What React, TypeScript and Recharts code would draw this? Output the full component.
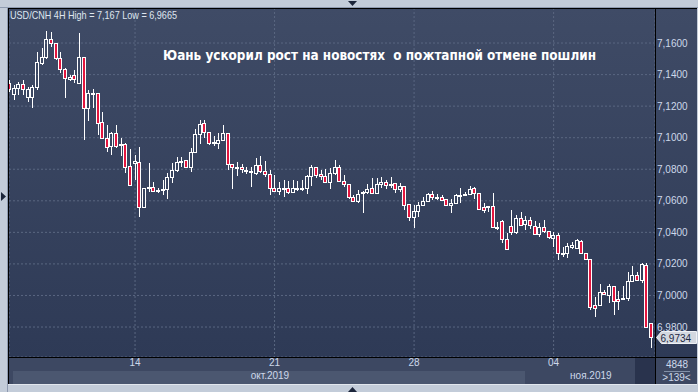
import React from "react";
import { ComposedChart, Bar, XAxis, YAxis, CartesianGrid, ReferenceLine } from "recharts";

// USD/CNH 4H candles (139 bars, 9 Oct - 7 Nov 2019)
const opens = [
  7.1348, 7.1275, 7.1313, 7.1338, 7.1259, 7.1259, 7.1319, 7.1471, 7.1509, 7.1623,
  7.1598, 7.1503, 7.1435, 7.1373, 7.1397, 7.1344, 7.1509, 7.1186, 7.1275, 7.1281,
  7.1097, 7.0999, 7.0949, 7.1027, 7.0960, 7.0960, 7.0821, 7.0840, 7.0846, 7.0561,
  7.0681, 7.0688, 7.0662, 7.0669, 7.0675, 7.0751, 7.0795, 7.0846, 7.0858, 7.0814,
  7.0909, 7.1023, 7.1093, 7.1036, 7.0966, 7.0966, 7.0985, 7.1030, 7.0833, 7.0812,
  7.0814, 7.0793, 7.0791, 7.0774, 7.0827, 7.0791, 7.0768, 7.0683, 7.0664, 7.0677,
  7.0679, 7.0657, 7.0677, 7.0681, 7.0679, 7.0757, 7.0812, 7.0770, 7.0757, 7.0717,
  7.0774, 7.0812, 7.0727, 7.0704, 7.0622, 7.0601, 7.0656, 7.0658, 7.0679, 7.0651,
  7.0706, 7.0717, 7.0704, 7.0714, 7.0672, 7.0694, 7.0580, 7.0495, 7.0535, 7.0573,
  7.0601, 7.0643, 7.0624, 7.0622, 7.0614, 7.0573, 7.0586, 7.0636, 7.0642, 7.0643,
  7.0679, 7.0651, 7.0562, 7.0566, 7.0567, 7.0432, 7.0474, 7.0356, 7.0440, 7.0404,
  7.0488, 7.0453, 7.0478, 7.0440, 7.0387, 7.0436, 7.0409, 7.0364, 7.0383, 7.0270,
  7.0271, 7.0309, 7.0299, 7.0345, 7.0267, 7.0229, 6.9940, 6.9940, 7.0024, 7.0003,
  7.0060, 6.9976, 6.9978, 6.9984, 7.0094, 7.0130, 7.0098, 7.0193, 6.9826,
];
const highs = [
  7.1365, 7.1334, 7.1354, 7.1365, 7.1319, 7.1334, 7.1545, 7.1566, 7.1678, 7.1670,
  7.1600, 7.1545, 7.1443, 7.1398, 7.1429, 7.1665, 7.1509, 7.1302, 7.1308, 7.1281,
  7.1160, 7.1080, 7.1037, 7.1080, 7.1000, 7.0966, 7.0928, 7.0890, 7.0941, 7.0681,
  7.0840, 7.0719, 7.0681, 7.0732, 7.0776, 7.0840, 7.0877, 7.0877, 7.0858, 7.0934,
  7.1055, 7.1112, 7.1112, 7.1036, 7.1011, 7.1030, 7.1080, 7.1030, 7.0833, 7.0846,
  7.0833, 7.0816, 7.0816, 7.0872, 7.0884, 7.0853, 7.0795, 7.0763, 7.0721, 7.0732,
  7.0727, 7.0732, 7.0727, 7.0732, 7.0763, 7.0827, 7.0812, 7.0795, 7.0799, 7.0805,
  7.0858, 7.0827, 7.0763, 7.0704, 7.0637, 7.0668, 7.0664, 7.0706, 7.0742, 7.0742,
  7.0751, 7.0732, 7.0751, 7.0714, 7.0714, 7.0694, 7.0580, 7.0573, 7.0594, 7.0622,
  7.0650, 7.0664, 7.0643, 7.0635, 7.0614, 7.0614, 7.0643, 7.0679, 7.0656, 7.0694,
  7.0690, 7.0651, 7.0583, 7.0567, 7.0651, 7.0467, 7.0478, 7.0394, 7.0542, 7.0510,
  7.0529, 7.0504, 7.0497, 7.0472, 7.0457, 7.0478, 7.0409, 7.0404, 7.0394, 7.0308,
  7.0334, 7.0341, 7.0356, 7.0352, 7.0271, 7.0229, 6.9990, 7.0073, 7.0035, 7.0073,
  7.0060, 7.0029, 7.0060, 7.0150, 7.0187, 7.0149, 7.0203, 7.0203, 6.9826,
];
const lows = [
  7.1289, 7.1239, 7.1270, 7.1270, 7.1228, 7.1186, 7.1302, 7.1461, 7.1497, 7.1577,
  7.1492, 7.1410, 7.1253, 7.1362, 7.1344, 7.1344, 7.0985, 7.1105, 7.1186, 7.1017,
  7.0999, 7.0907, 7.0890, 7.0932, 7.0884, 7.0776, 7.0694, 7.0732, 7.0497, 7.0554,
  7.0656, 7.0656, 7.0650, 7.0637, 7.0612, 7.0713, 7.0783, 7.0814, 7.0808, 7.0783,
  7.0903, 7.0960, 7.0998, 7.0953, 7.0947, 7.0928, 7.0985, 7.0795, 7.0675, 7.0757,
  7.0778, 7.0770, 7.0689, 7.0763, 7.0776, 7.0753, 7.0637, 7.0657, 7.0637, 7.0625,
  7.0643, 7.0650, 7.0662, 7.0662, 7.0643, 7.0694, 7.0744, 7.0732, 7.0710, 7.0675,
  7.0763, 7.0721, 7.0689, 7.0614, 7.0594, 7.0587, 7.0524, 7.0643, 7.0647, 7.0647,
  7.0679, 7.0675, 7.0681, 7.0651, 7.0657, 7.0542, 7.0474, 7.0425, 7.0495, 7.0567,
  7.0601, 7.0605, 7.0605, 7.0601, 7.0573, 7.0524, 7.0584, 7.0583, 7.0637, 7.0643,
  7.0609, 7.0546, 7.0524, 7.0531, 7.0425, 7.0415, 7.0330, 7.0288, 7.0383, 7.0390,
  7.0440, 7.0415, 7.0419, 7.0387, 7.0372, 7.0394, 7.0357, 7.0308, 7.0225, 7.0245,
  7.0235, 7.0292, 7.0292, 7.0263, 7.0225, 6.9910, 6.9861, 6.9940, 7.0003, 6.9952,
  6.9876, 6.9908, 6.9971, 6.9965, 7.0092, 7.0092, 7.0079, 6.9792, 6.9665,
];
const closes = [
  7.1306, 7.1313, 7.1338, 7.1306, 7.1306, 7.1323, 7.1482, 7.1509, 7.1623, 7.1598,
  7.1503, 7.1435, 7.1376, 7.1383, 7.1370, 7.1509, 7.1186, 7.1281, 7.1281, 7.1093,
  7.1000, 7.0942, 7.1027, 7.0949, 7.0963, 7.0814, 7.0700, 7.0850, 7.0561, 7.0681,
  7.0688, 7.0662, 7.0669, 7.0675, 7.0751, 7.0795, 7.0846, 7.0852, 7.0814, 7.0909,
  7.1023, 7.1087, 7.1036, 7.0966, 7.0972, 7.0985, 7.1030, 7.0833, 7.0812, 7.0814,
  7.0804, 7.0797, 7.0781, 7.0827, 7.0791, 7.0768, 7.0679, 7.0664, 7.0679, 7.0681,
  7.0657, 7.0679, 7.0681, 7.0683, 7.0757, 7.0812, 7.0763, 7.0759, 7.0717, 7.0774,
  7.0812, 7.0727, 7.0704, 7.0622, 7.0601, 7.0643, 7.0658, 7.0673, 7.0651, 7.0706,
  7.0721, 7.0700, 7.0707, 7.0672, 7.0694, 7.0573, 7.0495, 7.0535, 7.0573, 7.0601,
  7.0643, 7.0626, 7.0627, 7.0605, 7.0573, 7.0586, 7.0637, 7.0637, 7.0643, 7.0673,
  7.0647, 7.0546, 7.0541, 7.0567, 7.0432, 7.0434, 7.0356, 7.0294, 7.0404, 7.0488,
  7.0447, 7.0478, 7.0447, 7.0387, 7.0436, 7.0411, 7.0373, 7.0383, 7.0271, 7.0272,
  7.0314, 7.0320, 7.0352, 7.0267, 7.0229, 6.9927, 6.9919, 7.0024, 7.0007, 7.0060,
  6.9967, 6.9967, 6.9984, 7.0094, 7.0130, 7.0098, 7.0199, 6.9802, 6.9734,
];

const yTicks = [6.98, 7.0, 7.02, 7.04, 7.06, 7.08, 7.1, 7.12, 7.14, 7.16];
const dayTickIdx = [27, 57, 87, 117];
const dayLabels = ["14", "21", "28", "04"];
const monthTickIdx = [56, 125];
const monthLabels = ["окт.2019", "ноя.2019"];
const lastPrice = 6.9734;

const RED = "#e3163f";
const AXIS_TEXT = "#cdd8ea";
const FONT = "'Liberation Sans', Arial, sans-serif";

const data = opens.map((o, i) => ({
  i,
  open: o,
  high: highs[i],
  low: lows[i],
  close: closes[i],
  range: [lows[i], highs[i]],
}));

const fmtPrice = (v: number) => v.toFixed(4).replace(".", ",");

function Candle(props: any) {
  let { x, y, width, height, payload } = props;
  if (x == null || y == null || !payload) return null;
  if (height < 0) {
    y += height;
    height = -height;
  }
  const { open, close, high, low } = payload;
  const span = high - low;
  const py = (v: number) => (span > 0 ? y + ((high - v) / span) * height : y);
  const cx = Math.round(x + width / 2) + 0.5;
  const top = Math.round(py(Math.max(open, close))) + 0.5;
  let bot = Math.round(py(Math.min(open, close))) + 0.5;
  if (bot - top < 1) bot = top + 1;
  const yHi = Math.round(y);
  const yLo = Math.round(y + height);
  const bear = close < open;
  return (
    <g shapeRendering="crispEdges">
      {yHi < top && <line x1={cx} x2={cx} y1={yHi} y2={top} stroke="#fff" />}
      {yLo > bot && <line x1={cx} x2={cx} y1={bot} y2={yLo} stroke="#fff" />}
      <rect x={cx - 2} y={top} width={3} height={bot - top} fill={bear ? RED : "none"} stroke="#fff" />
    </g>
  );
}

function PriceTag(props: any) {
  const vb = props.viewBox;
  if (!vb) return null;
  const x0 = vb.x + vb.width + 1.5;
  const yc = Math.round(vb.y) + 0.5;
  const pts = `${x0},${yc} ${x0 + 5},${yc - 6} ${x0 + 40},${yc - 6} ${x0 + 40},${yc + 6} ${x0 + 5},${yc + 6}`;
  return (
    <g>
      <polygon points={pts} fill="#d3d8e0" stroke="#eef1f5" />
      <text x={x0 + 4} y={yc + 4} fontSize={10} fontFamily={FONT} fill="#1d2842">
        {fmtPrice(lastPrice)}
      </text>
    </g>
  );
}

export default function App() {
  return (
    <div
      style={{
        position: "fixed",
        left: 0,
        top: 0,
        width: 698,
        height: 392,
        background: "#c3ccd9",
        overflow: "hidden",
      }}
    >
      {/* dark chart panel */}
      <div
        style={{
          position: "absolute",
          left: 8,
          top: 8,
          width: 689,
          height: 350,
          background: "linear-gradient(#3f4b66, #2e3a56)",
        }}
      />
      {/* bottom strips */}
      <div style={{ position: "absolute", left: 8, top: 358, width: 689, height: 26, background: "#3d4862" }} />
      <div style={{ position: "absolute", left: 13, top: 371, width: 512, height: 13, background: "#4b5770" }} />
      <div style={{ position: "absolute", left: 635, top: 358, width: 20, height: 26, background: "#29334d" }} />

      <div style={{ position: "absolute", left: 0, top: 0 }}>
        <ComposedChart width={698} height={392} data={data} margin={{ top: 8, right: 6, bottom: 8, left: 9 }}>
          <CartesianGrid stroke="#5a6781" strokeDasharray="2 2" />
          <XAxis
            dataKey="i"
            type="number"
            domain={[-0.1, 138.8]}
            allowDataOverflow
            ticks={dayTickIdx}
            interval={0}
            tickFormatter={(v: number) => dayLabels[dayTickIdx.indexOf(v)] ?? ""}
            axisLine={false}
            tickLine={false}
            tickSize={0}
            tickMargin={2}
            height={14}
            tick={{ fill: AXIS_TEXT, fontSize: 10, fontFamily: FONT }}
          />
          <XAxis
            xAxisId="m"
            dataKey="i"
            type="number"
            domain={[-0.1, 138.8]}
            allowDataOverflow
            ticks={monthTickIdx}
            interval={0}
            tickFormatter={(v: number) => monthLabels[monthTickIdx.indexOf(v)] ?? ""}
            axisLine={false}
            tickLine={false}
            tickSize={0}
            tickMargin={1}
            height={13}
            tick={{ fill: AXIS_TEXT, fontSize: 10, fontFamily: FONT }}
          />
          <YAxis
            orientation="right"
            width={37}
            domain={[6.961, 7.1822]}
            allowDataOverflow
            ticks={yTicks}
            interval={0}
            tickFormatter={fmtPrice}
            axisLine={false}
            tickLine={false}
            tickSize={0}
            tickMargin={2}
            tick={{ fill: AXIS_TEXT, fontSize: 10, fontFamily: FONT, textAnchor: "start" }}
          />
          <ReferenceLine y={lastPrice} stroke="none" ifOverflow="visible" label={<PriceTag />} />
          <Bar dataKey="range" barSize={4} isAnimationActive={false} shape={(p: any) => <Candle {...p} />} />
        </ComposedChart>
      </div>

      {/* frame lines, markers and captions */}
      <svg
        width={698}
        height={392}
        style={{ position: "absolute", left: 0, top: 0, pointerEvents: "none" }}
        shapeRendering="crispEdges"
      >
        <line x1={0} x2={698} y1={7.5} y2={7.5} stroke="#8e9ab0" />
        <line x1={7.5} x2={7.5} y1={8} y2={392} stroke="#8e9ab0" />
        <line x1={8} x2={697} y1={8.5} y2={8.5} stroke="#000" />
        <line x1={8.5} x2={8.5} y1={8} y2={384} stroke="#000" />
        <line x1={8} x2={697} y1={357.5} y2={357.5} stroke="#000" />
        <line x1={655.5} x2={655.5} y1={8} y2={384} stroke="#000" />
        <line x1={8} x2={697} y1={384.5} y2={384.5} stroke="#e2e7ee" />
        <line x1={664} x2={690} y1={371.5} y2={371.5} stroke="#8290a8" />
        <polygon points="348,1 357,1 352.5,6" fill="#1b253a" shapeRendering="auto" />
        <polygon points="348,392 357,392 352.5,387" fill="#1b253a" shapeRendering="auto" />
        <polygon points="1,192 1,201 6,196.5" fill="#1b253a" shapeRendering="auto" />
        <text x={10} y={19} fontSize={10.5} fontFamily={FONT} fill="#dfe6ef" textLength={167} lengthAdjust="spacingAndGlyphs">
          USD/CNH 4H High = 7,167 Low = 6,9665
        </text>
        <text
          x={163}
          y={60}
          fontSize={14}
          fontWeight="bold"
          fontFamily="'DejaVu Sans', sans-serif"
          fill="#ffffff"
          textLength={433}
          lengthAdjust="spacingAndGlyphs"
          style={{ whiteSpace: "pre" }}
        >
          {"Юань ускорил рост на новостях  о пожтапной отмене пошлин"}
        </text>
        <text x={677} y={368} fontSize={10} fontFamily={FONT} fill={AXIS_TEXT} textAnchor="middle">
          4848
        </text>
        <text x={676.5} y={381} fontSize={10} fontFamily={FONT} fill={AXIS_TEXT} textAnchor="middle">
          {">139<"}
        </text>
      </svg>
    </div>
  );
}
